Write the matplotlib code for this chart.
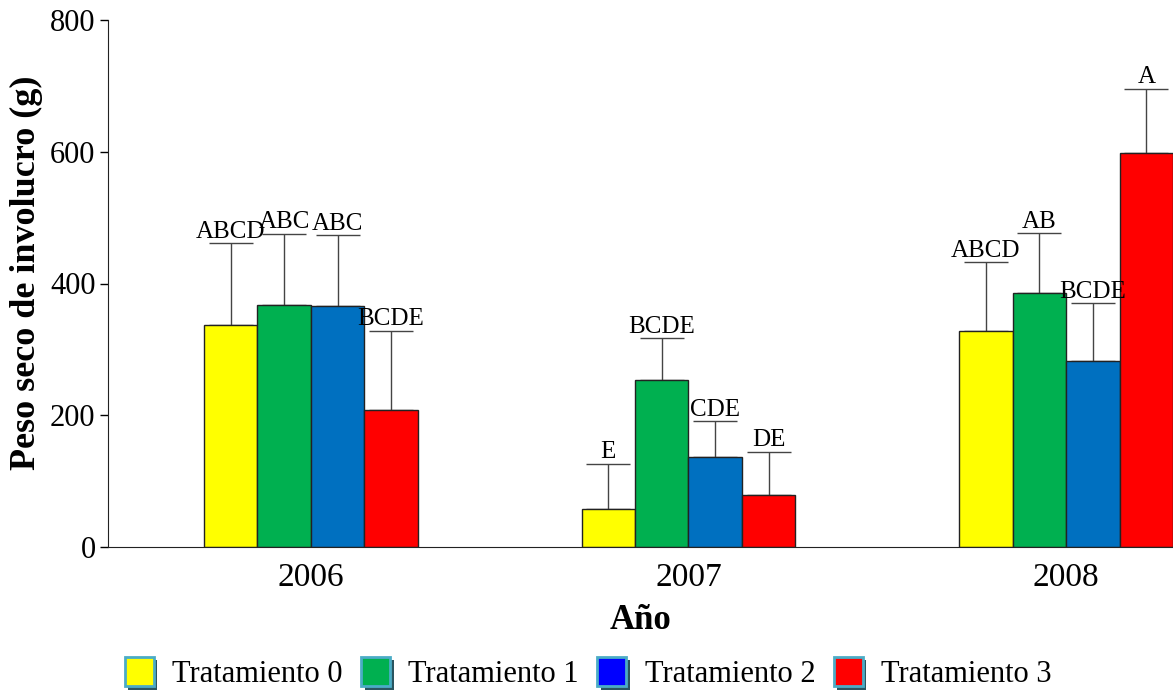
import matplotlib
matplotlib.use("Agg")
import matplotlib.pyplot as plt
import matplotlib.patheffects as pe
from matplotlib.patches import Patch
import numpy as np

plt.rcParams['font.family'] = ['Liberation Serif', 'DejaVu Serif']

years = ['2006', '2007', '2008']
series_names = ['Tratamiento 0', 'Tratamiento 1', 'Tratamiento 2', 'Tratamiento 3']
means = [
    [337, 58, 328],
    [367, 253, 385],
    [366, 137, 282],
    [208, 79, 598],
]
err_up = [
    [124, 68, 104],
    [108, 64, 91],
    [107, 54, 88],
    [120, 65, 98],
]
letters = [
    ['ABCD', 'E', 'ABCD'],
    ['ABC', 'BCDE', 'AB'],
    ['ABC', 'CDE', 'BCDE'],
    ['BCDE', 'DE', 'A'],
]
bar_colors = ['#ffff00', '#00b050', '#0070c0', '#ff0000']
legend_colors = ['#ffff00', '#00b050', '#0000ff', '#ff0000']

fig = plt.figure(figsize=(11.73, 6.92), dpi=100)
ax = fig.add_axes([108/1173, (692-547)/692, 1 - 108/1173, (547-20)/692])

x = np.arange(len(years))
w = 0.1415
for i in range(4):
    pos = x + (i - 1.5) * w
    ax.bar(pos, means[i], width=w, color=bar_colors[i], edgecolor='#222222', linewidth=1.0, zorder=2)
    ax.errorbar(pos, means[i], yerr=[np.zeros(3), err_up[i]], fmt='none', ecolor='#444444',
                elinewidth=1.0, capsize=16, capthick=1.0, zorder=1)
    for j in range(3):
        ax.text(pos[j], means[i][j] + err_up[i][j] + 1, letters[i][j], ha='center', va='bottom', fontsize=18)

ax.set_xlim(-0.537, 2.283)
ax.set_ylim(0, 800)
ax.set_yticks([0, 200, 400, 600, 800])
ax.set_xticks(x)
ax.set_xticklabels(years, fontsize=24)
ax.tick_params(axis='y', labelsize=22, direction='out', length=6, width=1, pad=3)
ax.tick_params(axis='x', length=0, pad=11)
for s in ['top', 'right']:
    ax.spines[s].set_visible(False)
ax.spines['left'].set_color('#222222')
ax.spines['bottom'].set_color('#222222')
ax.set_ylabel('Peso seco de involucro (g)', fontsize=26, fontweight='bold')
ax.yaxis.set_label_coords(-0.061, 0.52)
ax.set_xlabel('Año', fontsize=25, fontweight='bold', labelpad=8)

shadow = [pe.SimplePatchShadow(offset=(2.5, -2.5), shadow_rgbFace='#2a5560', alpha=1.0), pe.Normal()]
handles = [Patch(facecolor=c, edgecolor='#4bacc6', linewidth=2, path_effects=shadow) for c in legend_colors]
fig.legend(handles, series_names, loc='center', bbox_to_anchor=(0.5015, 1 - 673/692), ncol=4,
           frameon=False, fontsize=22, handlelength=0.95, handleheight=1.1, columnspacing=0.6,
           handletextpad=0.6, borderpad=0.2)

fig.savefig('out.png', dpi=100)
